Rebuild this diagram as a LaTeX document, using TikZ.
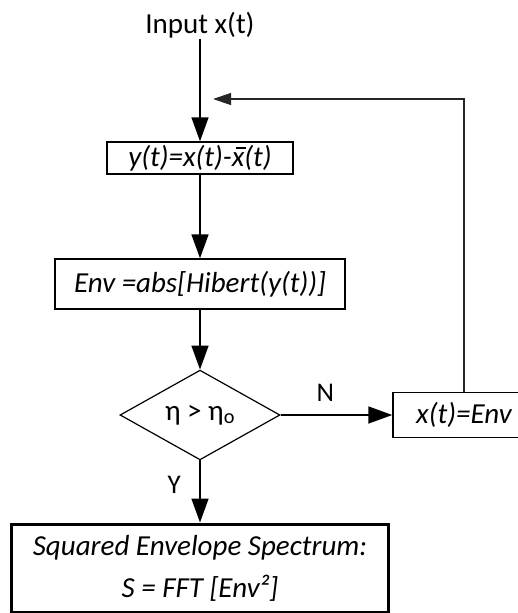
\documentclass[tikz,border=0pt]{standalone}
\usepackage{fontspec}
\setmainfont{Carlito}
\usepackage{tikz}
\usetikzlibrary{arrows.meta,shapes,positioning}
\newcommand{\bigtext}{\fontsize{29}{35}\selectfont}
\newcommand{\xbarred}{\rlap{\hspace{0.13em}\rule[0.6em]{0.36em}{0.055em}}x}
\tikzset{
    procbox/.style={
    rectangle,draw=black,line width=1.5pt,inner sep=0pt,font=\bigtext\itshape
    },
    decision/.style={
    diamond,draw=black,line width=1.2pt,inner sep=0pt,font=\bigtext,
    minimum width=160pt,minimum height=77pt
    },
    resultbox/.style={
    rectangle,draw=black,line width=3pt,inner sep=0pt,font=\bigtext\itshape,align=center
    },
    flow/.style={
    line width=1.8pt,-{Triangle[length=24pt,width=17pt]}
    },
    feedback/.style={
    line width=1.3pt,draw=black!85,-{Triangle[length=18pt,width=12pt]}
    },
}

\begin{document}
\begin{tikzpicture}[x=1pt,y=-1pt,node distance=100pt,on grid]
  \clip (0,0) rectangle (518,613);
  \node[inner sep=1pt,font=\bigtext] (input) at (200,25) {Input x(t)};
  \node[procbox,minimum width=186pt,minimum height=32pt] (box1) [below=133pt of input] {y(t)=x(t)-\xbarred(t)};
  \node[procbox,minimum width=290pt,minimum height=50pt] (box2) [below=126pt of box1] {Env =abs[Hibert(y(t))]};
  \node[decision] (test) [below=131pt of box2] {η > η\textsubscript{o}};
  \node[procbox,minimum width=142pt,minimum height=45pt] (xenv) [right=264pt of test] {x(t)=Env};
  \node[resultbox,minimum width=377pt,minimum height=88pt] (spec) [below=153pt of test]
       {Squared Envelope Spectrum:\\[7pt] S = FFT [Env²]};
  \coordinate (fbend) at (213,99);

  \path
        (input) edge [flow] (box1)
        (box1)  edge [flow] (box2)
        (box2)  edge [flow] (test)
        (test)  edge [flow] node [pos=0.4,above=9pt,font=\fontsize{27}{32}\selectfont] {N} (xenv)
        (test)  edge [flow] node [pos=0.4,left=15pt,font=\fontsize{27}{32}\selectfont] {Y} (spec);
  \draw[feedback] (xenv.north) |- (fbend);
\end{tikzpicture}
\end{document}
